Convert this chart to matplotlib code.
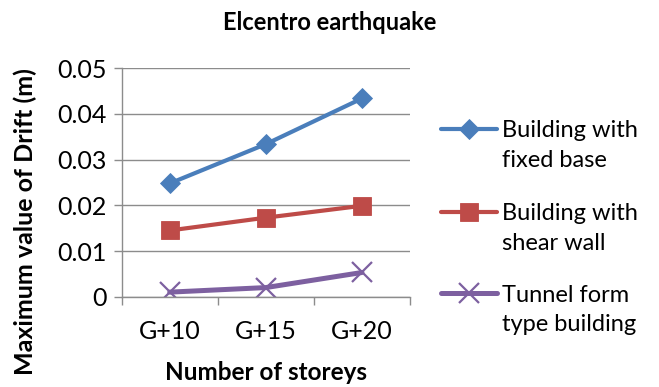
import matplotlib
matplotlib.use("Agg")
import matplotlib.pyplot as plt
from matplotlib.lines import Line2D
from matplotlib.ticker import FixedLocator

plt.rcParams['font.family'] = ['Lato', 'DejaVu Sans']

categories = ["G+10", "G+15", "G+20"]
fixed_base = [0.0248, 0.0334, 0.0434]
shear_wall = [0.0145, 0.0173, 0.0199]
tunnel_form = [0.0010, 0.0020, 0.0053]
series_names = [("Building with", "fixed base"), ("Building with", "shear wall"),
                ("Tunnel form", "type building")]
y_ticks = [0, 0.01, 0.02, 0.03, 0.04, 0.05]
y_tick_labels = ["0", "0.01", "0.02", "0.03", "0.04", "0.05"]

colors = ["#4A7EBB", "#BE4B48", "#7D60A0"]
markers = ["D", "s", "x"]
msizes = [10, 13, 14]
lwidths = [3.0, 3.0, 3.6]

W, H = 659, 387
fig = plt.figure(figsize=(W / 100, H / 100), dpi=100)
ax = fig.add_axes([121.7 / W, 1 - 296.7 / H, (410 - 121.7) / W, (296.7 - 68.3) / H])

x = list(range(len(categories)))
styles = []
for vals, c, m, ms, lw in zip([fixed_base, shear_wall, tunnel_form], colors, markers, msizes, lwidths):
    st = dict(color=c, lw=lw, marker=m, markersize=ms,
              markeredgewidth=1.6 if m == "x" else 0.6, markeredgecolor=c)
    ax.plot(x, vals, solid_capstyle="round", **st)
    styles.append(st)

grid_c = "#8C8C8C"
ax.set_xlim(-0.5, 2.5)
ax.set_ylim(0, 0.05)
ax.set_yticks(y_ticks)
ax.set_yticklabels(y_tick_labels)
ax.set_xticks(x)
ax.set_xticklabels(categories)
ax.xaxis.set_minor_locator(FixedLocator([-0.5, 0.5, 1.5, 2.5]))
ax.tick_params(axis="x", which="major", length=0, pad=17, labelsize=18)
ax.tick_params(axis="x", which="minor", length=6, width=1, color=grid_c, direction="out")
ax.tick_params(axis="y", length=6, width=1, color=grid_c, pad=5, labelsize=18)
ax.grid(axis="y", color=grid_c, lw=1)
ax.set_axisbelow(True)
for s in ["top", "right"]:
    ax.spines[s].set_visible(False)
for s in ["left", "bottom"]:
    ax.spines[s].set_color(grid_c)
    ax.spines[s].set_linewidth(1)

fig.text(0.5, 1 - 22 / H, "Elcentro earthquake", fontsize=17, fontweight="bold",
         ha="center", va="center")
fig.text(266 / W, 1 - 372 / H, "Number of storeys", fontsize=17.5, fontweight="bold",
         ha="center", va="center")
fig.text(25 / W, 1 - 222 / H, "Maximum value of Drift (m)", fontsize=18, fontweight="bold",
         ha="center", va="center", rotation=90)

# legend: handle aligned with the first text line of each entry
handle_y = [129, 212, 293]
baselines = [(137, 167), (220, 250), (301.5, 331)]
for st, (l1, l2), hy, (b1, b2) in zip(styles, series_names, handle_y, baselines):
    yc = 1 - hy / H
    fig.add_artist(Line2D([441 / W, 469 / W, 497 / W], [yc, yc, yc], transform=fig.transFigure,
                          markevery=[1], solid_capstyle="round", **st))
    fig.text(502 / W, 1 - b1 / H, l1, fontsize=17, ha="left", va="baseline")
    fig.text(502 / W, 1 - b2 / H, l2, fontsize=17, ha="left", va="baseline")

fig.savefig("out.png", dpi=100)
